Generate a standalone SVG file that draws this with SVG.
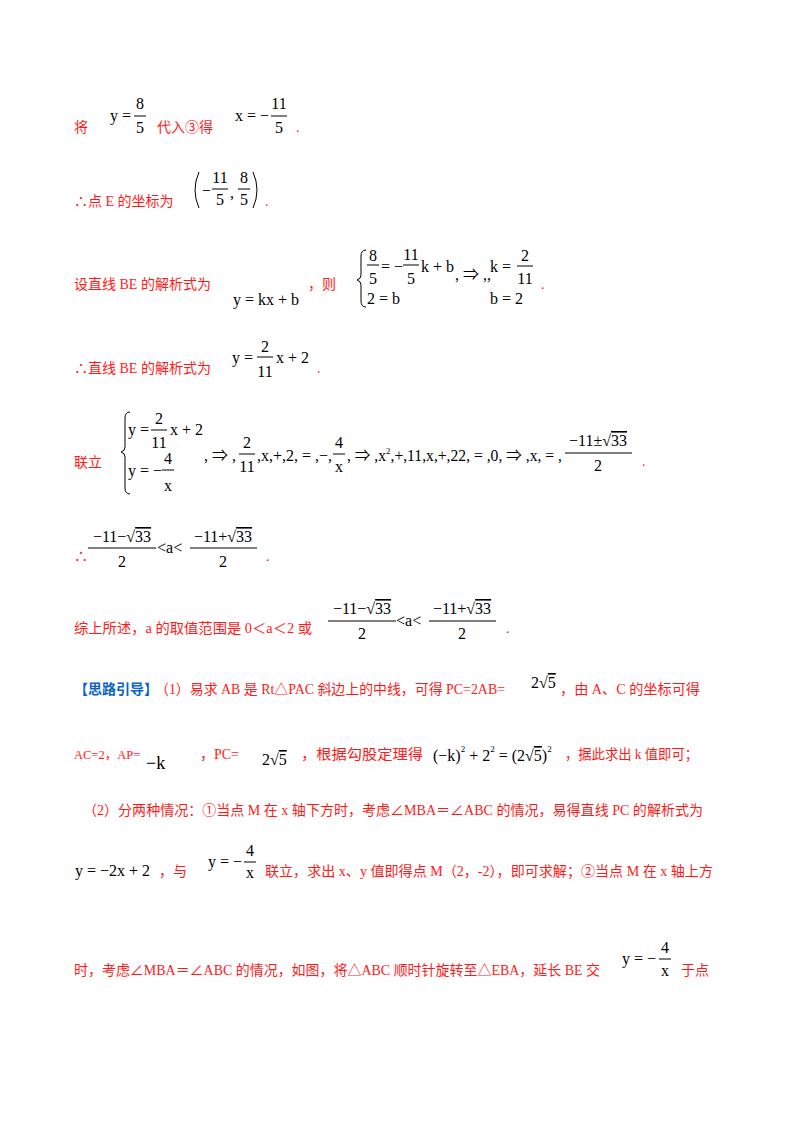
<svg xmlns="http://www.w3.org/2000/svg" width="800" height="1132" viewBox="0 0 800 1132">
<style>
.r{fill:#ff1a1a;font-family:"Liberation Serif","Noto Sans CJK SC",serif;font-size:14px}
.m{fill:#000;font-family:"Liberation Serif","Noto Sans CJK SC",serif;font-size:16px}
.c{text-anchor:middle}
.o{text-decoration:overline}
.b{fill:#0b63c4;font-family:"Liberation Sans","Noto Sans CJK SC",sans-serif;font-size:14px;font-weight:bold}
line{stroke:#000;stroke-width:1}
path{fill:none;stroke:#000;stroke-width:1}
</style>
<rect width="800" height="1132" fill="#fff"/>
<!-- line 1 -->
<text class="r" x="74" y="132">将</text>
<text class="m" x="110" y="121">y =</text>
<text class="m c" x="140" y="109">8</text><line x1="134" y1="116" x2="146" y2="116"/><text class="m c" x="140" y="133">5</text>
<text class="r" x="157" y="132">代入③得</text>
<text class="m" x="235" y="121">x = −</text>
<text class="m c" x="279" y="109">11</text><line x1="271" y1="116" x2="287" y2="116"/><text class="m c" x="279" y="133">5</text>
<text class="r" x="296" y="132">.</text>
<!-- line 2 -->
<text class="r" x="74" y="206">∴点 E 的坐标为</text>
<path d="M199,172 Q191,190 199,208"/>
<text class="m" x="202" y="196">−</text>
<text class="m c" x="220" y="183">11</text><line x1="212" y1="189" x2="228" y2="189"/><text class="m c" x="220" y="205">5</text>
<text class="m" x="230" y="198">,</text>
<text class="m c" x="244" y="183">8</text><line x1="238" y1="189" x2="250" y2="189"/><text class="m c" x="244" y="205">5</text>
<path d="M253,172 Q261,190 253,208"/>
<text class="r" x="265" y="206">.</text>
<!-- line 3 -->
<text class="r" x="74" y="289">设直线 BE 的解析式为</text>
<text class="m" x="233" y="305">y = kx + b</text>
<text class="r" x="308" y="289">，则</text>
<path d="M366,250 Q361,250 361,256 L361,275 Q361,279 357,280 Q361,281 361,285 L361,301 Q361,307 366,307"/>
<text class="m c" x="373" y="261">8</text><line x1="367" y1="265" x2="379" y2="265"/><text class="m c" x="373" y="284">5</text>
<text class="m" x="381" y="272">= −</text>
<text class="m c" x="411" y="260">11</text><line x1="403" y1="265" x2="419" y2="265"/><text class="m c" x="411" y="284">5</text>
<text class="m" x="421" y="272">k + b</text>
<text class="m" x="367" y="304">2 = b</text>
<text class="m" x="455" y="280">, ⇒ ,,</text>
<text class="m" x="490" y="272">k =</text>
<text class="m c" x="525" y="261">2</text><line x1="517" y1="266" x2="533" y2="266"/><text class="m c" x="525" y="284">11</text>
<text class="m" x="490" y="304">b = 2</text>
<text class="r" x="541" y="289">.</text>
<!-- line 4 -->
<text class="r" x="74" y="373">∴直线 BE 的解析式为</text>
<text class="m" x="232" y="363">y =</text>
<text class="m c" x="265" y="352">2</text><line x1="257" y1="357" x2="273" y2="357"/><text class="m c" x="265" y="377">11</text>
<text class="m" x="276" y="363">x + 2</text>
<text class="r" x="317" y="373">.</text>
<!-- line 5 -->
<text class="r" x="74" y="467">联立</text>
<path d="M130,412 Q125,412 125,418 L125,447 Q125,451 121,452 Q125,453 125,457 L125,488 Q125,494 130,494"/>
<text class="m" x="128" y="435">y =</text>
<text class="m c" x="159" y="424">2</text><line x1="151" y1="430" x2="167" y2="430"/><text class="m c" x="159" y="448">11</text>
<text class="m" x="170" y="435">x + 2</text>
<text class="m" x="128" y="476">y = −</text>
<text class="m c" x="168" y="464">4</text><line x1="162" y1="470" x2="174" y2="470"/><text class="m c" x="168" y="491">x</text>
<text class="m" x="204" y="461">, ⇒ ,</text>
<text class="m c" x="247" y="448">2</text><line x1="239" y1="454" x2="255" y2="454"/><text class="m c" x="247" y="472">11</text>
<text class="m" x="257" y="461">,x,+,2, = ,−,</text>
<text class="m c" x="339" y="448">4</text><line x1="333" y1="454" x2="345" y2="454"/><text class="m c" x="339" y="472">x</text>
<text class="m" x="347" y="461" textLength="215" lengthAdjust="spacingAndGlyphs">, ⇒ ,x<tspan dy="-7" font-size="9">2</tspan><tspan dy="7">,+,11,x,+,22, = ,0, ⇒ ,x, = ,</tspan></text>
<text class="m c" x="598" y="446">−11±√<tspan class="o">33</tspan></text>
<line x1="565" y1="453" x2="632" y2="453"/><text class="m c" x="598" y="471">2</text>
<text class="r" x="642" y="466">.</text>
<!-- line 6 -->
<text class="r" x="74" y="561">∴</text>
<text class="m c" x="122" y="542">−11−√<tspan class="o">33</tspan></text>
<line x1="88" y1="548" x2="156" y2="548"/><text class="m c" x="122" y="567">2</text>
<text class="m" x="157" y="553">&lt;a&lt;</text>
<text class="m c" x="223" y="542">−11+√<tspan class="o">33</tspan></text>
<line x1="190" y1="548" x2="257" y2="548"/><text class="m c" x="223" y="567">2</text>
<text class="r" x="266" y="561">.</text>
<!-- line 7 -->
<text class="r" x="74" y="633" textLength="238" lengthAdjust="spacingAndGlyphs">综上所述，a 的取值范围是 0＜a＜2 或</text>
<text class="m c" x="362" y="614">−11−√<tspan class="o">33</tspan></text>
<line x1="328" y1="621" x2="396" y2="621"/><text class="m c" x="362" y="639">2</text>
<text class="m" x="396" y="626">&lt;a&lt;</text>
<text class="m c" x="462" y="614">−11+√<tspan class="o">33</tspan></text>
<line x1="429" y1="621" x2="496" y2="621"/><text class="m c" x="462" y="639">2</text>
<text class="r" x="506" y="633">.</text>
<!-- line 8 -->
<text class="b" x="74" y="694">【思路引导】</text>
<text class="r" x="155" y="694" textLength="350" lengthAdjust="spacingAndGlyphs">（1）易求 AB 是 Rt△PAC 斜边上的中线，可得 PC=2AB=</text>
<text class="m" x="531" y="688">2√<tspan class="o">5</tspan></text>
<text class="r" x="560" y="694" textLength="140" lengthAdjust="spacingAndGlyphs">，由 A、C 的坐标可得</text>
<!-- line 9 -->
<text class="r" x="74" y="759" style="font-size:12.5px">AC=2，AP=</text>
<text class="m" x="146" y="769" style="font-size:18px">−k</text>
<text class="r" x="200" y="759">，PC=</text>
<text class="m" x="262" y="765">2√<tspan class="o">5</tspan></text>
<text class="r" x="301" y="759" textLength="122" lengthAdjust="spacingAndGlyphs">，根据勾股定理得</text>
<text class="m" x="433" y="761">(−k)<tspan dy="-9" font-size="9">2</tspan><tspan dy="9"> + 2</tspan><tspan dy="-9" font-size="9">2</tspan><tspan dy="9"> = (2√<tspan class="o">5</tspan>)</tspan><tspan dy="-9" font-size="9">2</tspan></text>
<text class="r" x="565" y="759" textLength="133" lengthAdjust="spacingAndGlyphs">，据此求出 k 值即可；</text>
<!-- line 10 -->
<text class="r" x="83" y="815" textLength="620" lengthAdjust="spacingAndGlyphs">（2）分两种情况：①当点 M 在 x 轴下方时，考虑∠MBA＝∠ABC 的情况，易得直线 PC 的解析式为</text>
<!-- line 11 -->
<text class="m" x="75" y="876">y = −2x + 2</text>
<text class="r" x="159" y="876">，与</text>
<text class="m" x="208" y="867">y = −</text>
<text class="m c" x="250" y="856">4</text><line x1="244" y1="862" x2="256" y2="862"/><text class="m c" x="250" y="878">x</text>
<text class="r" x="265" y="876" textLength="448" lengthAdjust="spacingAndGlyphs">联立，求出 x、y 值即得点 M（2，-2），即可求解；②当点 M 在 x 轴上方</text>
<!-- line 12 -->
<text class="r" x="74" y="975" textLength="526" lengthAdjust="spacingAndGlyphs">时，考虑∠MBA＝∠ABC 的情况，如图，将△ABC 顺时针旋转至△EBA，延长 BE 交</text>
<text class="m" x="622" y="964">y = −</text>
<text class="m c" x="665" y="953">4</text><line x1="659" y1="959" x2="671" y2="959"/><text class="m c" x="665" y="976">x</text>
<text class="r" x="681" y="975">于点</text>
</svg>
